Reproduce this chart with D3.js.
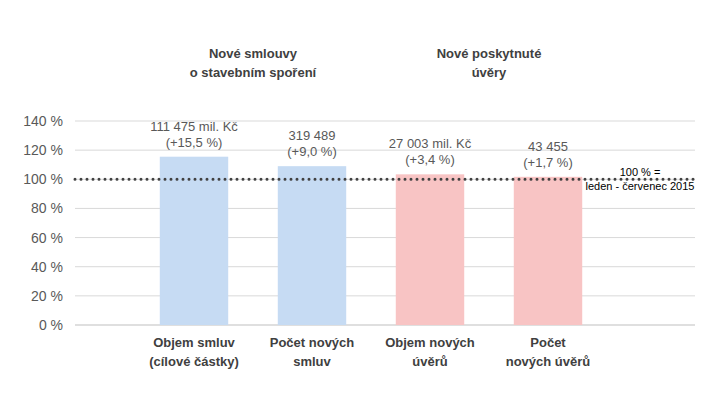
<!DOCTYPE html>
<html><head><meta charset="utf-8">
<script src="https://cdn.jsdelivr.net/npm/d3@7"></script>
<style>body{margin:0;background:#fff}text{font-family:Arial,"Liberation Sans",sans-serif}</style>
</head><body><svg width="716" height="410"></svg>
<script>
const categories = [["Objem smluv","(cílové částky)"],["Počet  nových","smluv"],["Objem nových","úvěrů"],["Počet","nových úvěrů"]]
const values = [115.5, 109.0, 103.4, 101.7]
const labels = [["111 475 mil. Kč","(+15,5 %)"],["319 489","(+9,0 %)"],["27 003 mil. Kč","(+3,4 %)"],["43 455","(+1,7 %)"]]
const colors = ["#c6dbf3","#c6dbf3","#f8c4c4","#f8c4c4"]
const ticks = [0,20,40,60,80,100,120,140]

const svg = d3.select('svg')
const x = d3.scaleBand().domain(d3.range(4)).range([135,607]).paddingInner(0.42).paddingOuter(0.21)
const y = d3.scaleLinear().domain([0,140]).range([325,121])

svg.selectAll('line.grid').data(ticks).enter().append('line')
  .attr('x1',75).attr('x2',695).attr('y1',d=>y(d)).attr('y2',d=>y(d))
  .style('stroke',d=>d===0?'#bfbfbf':'#d9d9d9')
svg.selectAll('text.tick').data(ticks).enter().append('text')
  .attr('x',63).attr('y',d=>y(d)+5).attr('text-anchor','end')
  .style('font-size','14px').style('fill','#595959').text(d=>d+' %')

svg.selectAll('rect').data(values).enter().append('rect')
  .attr('x',(d,i)=>x(i)).attr('width',x.bandwidth())
  .attr('y',d=>y(d)).attr('height',d=>y(0)-y(d)).style('fill',(d,i)=>colors[i])

svg.append('line').attr('x1',75).attr('x2',695).attr('y1',y(100)).attr('y2',y(100))
  .style('stroke','#404040').style('stroke-width',3).style('stroke-dasharray','0 6').style('stroke-linecap','round')

labels.forEach((l,i)=>{
  const cx = x(i)+x.bandwidth()/2, top = y(values[i])
  l.forEach((s,j)=>svg.append('text').attr('x',cx).attr('y',top-26+j*16).attr('text-anchor','middle')
    .style('font-size','13px').style('fill','#595959').text(s))
  categories[i].forEach((s,j)=>svg.append('text').attr('x',cx).attr('y',347+j*19).attr('text-anchor','middle')
    .style('font-size','13px').style('font-weight','bold').style('fill','#404040').text(s))
})

;[[253,["Nové smlouvy","o stavebním spoření"]],[489,["Nové poskytnuté","úvěry"]]].forEach(([cx,ls])=>
  ls.forEach((s,j)=>svg.append('text').attr('x',cx).attr('y',58+j*19).attr('text-anchor','middle')
    .style('font-size','13px').style('font-weight','bold').style('fill','#404040').text(s)))

svg.append('text').attr('x',640).attr('y',176).attr('text-anchor','middle').style('font-size','11px').style('fill','#000').text('100 % =')
svg.append('text').attr('x',640).attr('y',190).attr('text-anchor','middle').style('font-size','11px').style('fill','#000').text('leden - červenec 2015')
</script></body></html>
